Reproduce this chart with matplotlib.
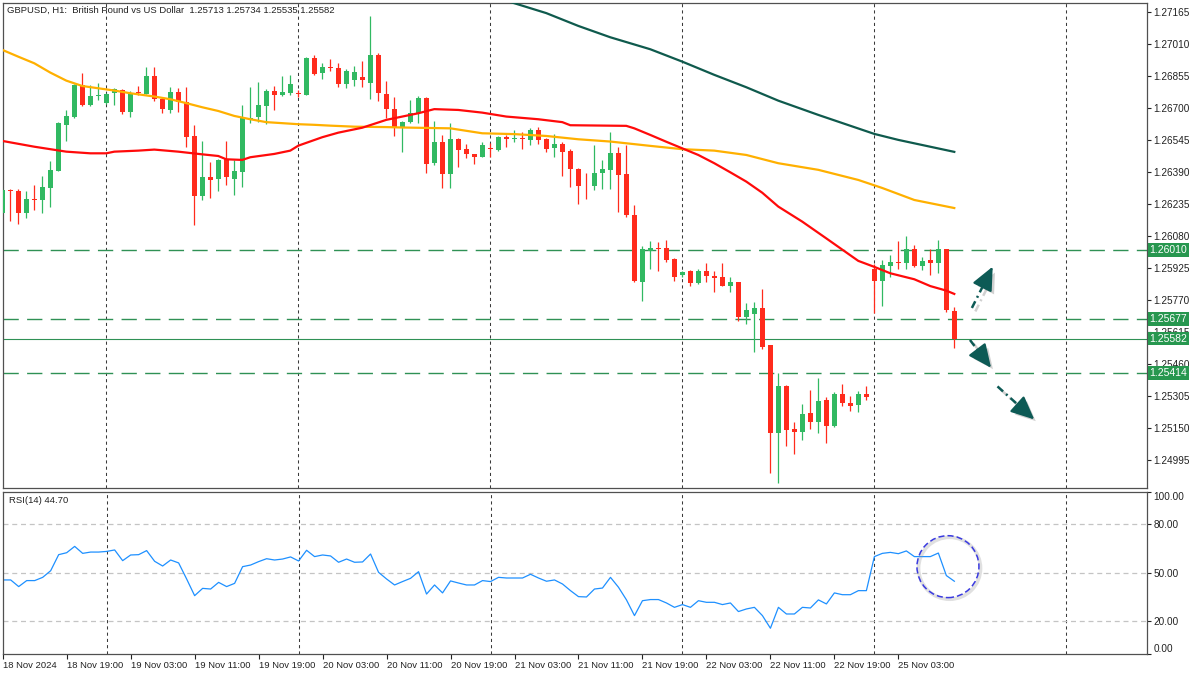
import numpy as np
import matplotlib.pyplot as plt
import matplotlib.patheffects as pe
from matplotlib.patches import Ellipse

plt.rcParams['font.family'] = ['Liberation Sans', 'DejaVu Sans']
FS = 7.2
FS_SMALL = 6.8

# ---- hourly candles, 18 Nov 11:00 .. 25 Nov 10:00 (weekend skipped) ----
opens = [1.26192, 1.26302, 1.26297, 1.26188, 1.26258, 1.26253, 1.26313, 1.26395, 1.26617, 1.26654,
         1.26810, 1.26712, 1.26756, 1.26725, 1.26770, 1.26786, 1.26681, 1.26776, 1.26767, 1.26854,
         1.26742, 1.26689, 1.26778, 1.26729, 1.26563, 1.26274, 1.26365, 1.26355, 1.26452, 1.26355,
         1.26390, 1.26641, 1.26654, 1.26709, 1.26783, 1.26762, 1.26770, 1.26772, 1.26762, 1.26943,
         1.26870, 1.26896, 1.26893, 1.26815, 1.26834, 1.26848, 1.26819, 1.26956, 1.26767, 1.26694,
         1.26605, 1.26633, 1.26673, 1.26749, 1.26431, 1.26536, 1.26378, 1.26549, 1.26500, 1.26476,
         1.26463, 1.26507, 1.26495, 1.26560, 1.26547, 1.26555, 1.26544, 1.26592, 1.26549, 1.26507,
         1.26524, 1.26490, 1.26403, 1.26327, 1.26322, 1.26383, 1.26399, 1.26479, 1.26379, 1.26180,
         1.25857, 1.26008, 1.26019, 1.26019, 1.25966, 1.25890, 1.25909, 1.25853, 1.25909, 1.25885,
         1.25880, 1.25838, 1.25856, 1.25688, 1.25702, 1.25730, 1.25551, 1.25126, 1.25352, 1.25144,
         1.25131, 1.25223, 1.25179, 1.25284, 1.25158, 1.25313, 1.25271, 1.25260, 1.25313, 1.25918,
         1.25861, 1.25935, 1.25954, 1.25947, 1.26014, 1.25935, 1.25963, 1.25950, 1.26014, 1.25713]
highs = [1.26312, 1.26307, 1.26305, 1.26297, 1.26326, 1.26369, 1.26442, 1.26633, 1.26689, 1.26815,
         1.26870, 1.26810, 1.26819, 1.26769, 1.26794, 1.26789, 1.26783, 1.26807, 1.26899, 1.26899,
         1.26752, 1.26802, 1.26794, 1.26799, 1.26617, 1.26540, 1.26436, 1.26452, 1.26539, 1.26447,
         1.26713, 1.26799, 1.26826, 1.26789, 1.26805, 1.26854, 1.26859, 1.26786, 1.26946, 1.26956,
         1.26918, 1.26935, 1.26918, 1.26886, 1.26902, 1.26927, 1.27144, 1.26967, 1.26831, 1.26754,
         1.26636, 1.26738, 1.26757, 1.26754, 1.26637, 1.26568, 1.26628, 1.26555, 1.26525, 1.26478,
         1.26536, 1.26528, 1.26563, 1.26568, 1.26592, 1.26584, 1.26603, 1.26608, 1.26555, 1.26571,
         1.26536, 1.26499, 1.26410, 1.26383, 1.26520, 1.26447, 1.26581, 1.26511, 1.26520, 1.26229,
         1.26030, 1.26055, 1.26050, 1.26060, 1.25971, 1.25907, 1.25912, 1.25919, 1.25949, 1.25909,
         1.25949, 1.25880, 1.25858, 1.25753, 1.25758, 1.25823, 1.25553, 1.25414, 1.25355, 1.25178,
         1.25265, 1.25333, 1.25391, 1.25300, 1.25325, 1.25362, 1.25304, 1.25328, 1.25352, 1.25943,
         1.25963, 1.25987, 1.26056, 1.26079, 1.26035, 1.25979, 1.26014, 1.26060, 1.26016, 1.25734]
lows = [1.26186, 1.26153, 1.26139, 1.26167, 1.26205, 1.26190, 1.26221, 1.26394, 1.26540, 1.26650,
        1.26709, 1.26709, 1.26738, 1.26718, 1.26713, 1.26670, 1.26657, 1.26762, 1.26764, 1.26734,
        1.26673, 1.26676, 1.26681, 1.26511, 1.26132, 1.26253, 1.26264, 1.26297, 1.26326, 1.26277,
        1.26318, 1.26625, 1.26633, 1.26621, 1.26689, 1.26757, 1.26762, 1.26754, 1.26759, 1.26859,
        1.26839, 1.26878, 1.26802, 1.26797, 1.26805, 1.26802, 1.26742, 1.26734, 1.26649, 1.26563,
        1.26487, 1.26628, 1.26628, 1.26385, 1.26423, 1.26313, 1.26313, 1.26414, 1.26455, 1.26428,
        1.26460, 1.26463, 1.26492, 1.26511, 1.26536, 1.26500, 1.26520, 1.26524, 1.26487, 1.26463,
        1.26371, 1.26318, 1.26234, 1.26258, 1.26302, 1.26305, 1.26305, 1.26197, 1.26172, 1.25857,
        1.25765, 1.25919, 1.25911, 1.25954, 1.25862, 1.25879, 1.25838, 1.25846, 1.25857, 1.25809,
        1.25837, 1.25809, 1.25669, 1.25653, 1.25518, 1.25531, 1.24932, 1.24884, 1.25061, 1.25023,
        1.25090, 1.25144, 1.25126, 1.25078, 1.25155, 1.25257, 1.25233, 1.25228, 1.25284, 1.25707,
        1.25740, 1.25882, 1.25919, 1.25919, 1.25930, 1.25914, 1.25890, 1.25901, 1.25712, 1.25535]
closes = [1.26301, 1.26296, 1.26188, 1.26258, 1.26254, 1.26316, 1.26399, 1.26625, 1.26660, 1.26810,
          1.26712, 1.26757, 1.26758, 1.26765, 1.26789, 1.26681, 1.26770, 1.26773, 1.26854, 1.26742,
          1.26693, 1.26778, 1.26729, 1.26557, 1.26274, 1.26366, 1.26350, 1.26447, 1.26363, 1.26394,
          1.26649, 1.26650, 1.26712, 1.26783, 1.26762, 1.26776, 1.26815, 1.26768, 1.26943, 1.26864,
          1.26899, 1.26891, 1.26815, 1.26878, 1.26875, 1.26834, 1.26956, 1.26770, 1.26693, 1.26605,
          1.26633, 1.26673, 1.26746, 1.26426, 1.26536, 1.26378, 1.26549, 1.26495, 1.26476, 1.26463,
          1.26520, 1.26499, 1.26560, 1.26547, 1.26555, 1.26547, 1.26592, 1.26544, 1.26500, 1.26524,
          1.26487, 1.26403, 1.26322, 1.26324, 1.26383, 1.26402, 1.26479, 1.26374, 1.26180, 1.25861,
          1.26014, 1.26019, 1.26014, 1.25963, 1.25882, 1.25905, 1.25853, 1.25909, 1.25885, 1.25877,
          1.25838, 1.25856, 1.25688, 1.25720, 1.25730, 1.25542, 1.25126, 1.25352, 1.25139, 1.25131,
          1.25217, 1.25179, 1.25280, 1.25160, 1.25313, 1.25268, 1.25257, 1.25313, 1.25300, 1.25861,
          1.25938, 1.25954, 1.25947, 1.26014, 1.25935, 1.25958, 1.25950, 1.26014, 1.25720, 1.25582]

# moving averages (bar index, price)
ma_red_bar = [0, 4, 8, 11, 13, 14, 17, 19, 22, 25, 27, 28, 30, 31, 34, 36, 37, 40, 42, 45, 48, 50,
              52, 54, 57, 60, 63, 67, 70, 71, 78, 79, 81, 83, 85, 87, 89, 91, 93, 95, 97, 100,
              103, 107, 109, 111, 114, 116, 118, 119]
ma_red = [1.26539, 1.26511, 1.26487, 1.26479, 1.26479, 1.26487, 1.26492, 1.26497, 1.26487, 1.26474,
          1.26466, 1.26450, 1.26447, 1.26460, 1.26476, 1.26492, 1.26516, 1.26557, 1.26579, 1.26603,
          1.26641, 1.26657, 1.26673, 1.26693, 1.26689, 1.26676, 1.26657, 1.26644, 1.26630, 1.26615,
          1.26612, 1.26600, 1.26568, 1.26535, 1.26503, 1.26471, 1.26431, 1.26387, 1.26342, 1.26288,
          1.26221, 1.26148, 1.26067, 1.25958, 1.25929, 1.25898, 1.25869, 1.25836, 1.25814, 1.25798]
ma_orange_bar = [0, 2, 4, 6, 8, 10, 12, 14, 16, 19, 21, 23, 25, 27, 29, 31, 33, 35, 37, 39, 41, 44,
                 48, 50, 56, 60, 64, 68, 72, 76, 81, 85, 89, 93, 97, 102, 107, 110, 114, 119]
ma_orange = [1.26980, 1.26947, 1.26915, 1.26870, 1.26831, 1.26805, 1.26794, 1.26783, 1.26770, 1.26754,
             1.26741, 1.26722, 1.26702, 1.26684, 1.26660, 1.26644, 1.26630, 1.26625, 1.26620, 1.26617,
             1.26613, 1.26608, 1.26606, 1.26604, 1.26600, 1.26576, 1.26572, 1.26563, 1.26547, 1.26536,
             1.26515, 1.26499, 1.26492, 1.26471, 1.26431, 1.26399, 1.26350, 1.26311, 1.26253, 1.26214]
ma_green_bar = [62, 68, 72, 76, 81, 85, 89, 93, 97, 102, 109, 112, 119]
ma_green = [1.27230, 1.27158, 1.27096, 1.27041, 1.26983, 1.26923, 1.26859, 1.26799, 1.26734, 1.26665,
            1.26573, 1.26544, 1.26486]

rsi = [45.5, 45.5, 41.4, 45.1, 45.1, 47.1, 51.2, 61.1, 62.3, 66.2, 61.9, 62.7, 62.7, 63.1, 64.0,
       57.4, 60.9, 61.1, 63.6, 57.0, 54.1, 57.8, 56.0, 46.1, 35.8, 40.3, 39.9, 44.0, 41.4, 43.4,
       53.7, 54.7, 56.8, 58.6, 57.8, 58.4, 59.7, 57.2, 63.8, 59.9, 60.9, 60.3, 56.4, 58.4, 56.4,
       56.6, 61.5, 50.2, 46.1, 42.4, 44.5, 46.5, 50.6, 36.8, 42.4, 37.5, 44.9, 43.6, 42.4, 42.4,
       45.1, 44.5, 47.1, 46.7, 46.7, 46.7, 49.0, 46.7, 44.7, 45.5, 43.0, 38.9, 35.2, 35.0, 39.9,
       40.5, 47.1, 41.0, 33.2, 23.5, 32.7, 33.4, 33.4, 31.3, 28.6, 30.3, 28.6, 32.7, 31.7, 31.7,
       30.3, 31.3, 26.0, 27.6, 28.6, 23.5, 15.7, 28.6, 24.5, 24.5, 28.6, 28.2, 33.2, 30.7, 37.5,
       36.4, 36.4, 38.9, 38.9, 59.9, 61.9, 62.5, 61.7, 63.4, 59.9, 59.9, 59.9, 62.1, 48.2, 44.7]

levels = [1.26010, 1.25677, 1.25414]
last_price = 1.25582

price_ticks = [1.27165, 1.27010, 1.26855, 1.26700, 1.26545, 1.26390, 1.26235, 1.26080,
               1.25925, 1.25770, 1.25615, 1.25460, 1.25305, 1.25150, 1.24995]
rsi_ticks = [0, 20, 50, 80, 100]
date_tick_bars = [0, 8, 16, 24, 32, 40, 48, 56, 64, 72, 80, 88, 96, 104, 112]
date_labels = ['18 Nov 2024', '18 Nov 19:00', '19 Nov 03:00', '19 Nov 11:00', '19 Nov 19:00',
               '20 Nov 03:00', '20 Nov 11:00', '20 Nov 19:00', '21 Nov 03:00', '21 Nov 11:00',
               '21 Nov 19:00', '22 Nov 03:00', '22 Nov 11:00', '22 Nov 19:00', '25 Nov 03:00']
day_sep_bars = [13, 37, 61, 85, 109, 133]

# drawn annotations: arrows (bar, price) -> (bar, price)
arrows = [((121.2, 1.25730), (123.8, 1.25930)),
          ((120.96, 1.25575), (123.6, 1.25440)),
          ((124.4, 1.25350), (129.0, 1.25190))]

BULL, BEAR = '#31b962', '#ff2b1c'
GRID = '#3a3a3a'
LEVEL = '#2f9155'
ARROW = '#0d5a55'

W, H = 1200, 675
fig = plt.figure(figsize=(W / 100, H / 100), dpi=100)
ax = fig.add_axes([2.7 / W, 1 - 488 / H, (1147 - 2.7) / W, (488 - 3) / H])
ax2 = fig.add_axes([2.7 / W, 1 - 653.7 / H, (1147 - 2.7) / W, (653.7 - 491.6) / H])

o = np.array(opens); c = np.array(closes)
hi = np.array(highs); lo = np.array(lows)
x = np.arange(len(o))
up = c >= o
cols = np.where(up, BULL, BEAR)

ax.vlines(x, lo, hi, colors=cols, lw=0.9, zorder=3)
body = np.maximum(np.abs(c - o), 0.00003)
ax.bar(x, body, bottom=np.minimum(o, c), width=0.62, color=cols, lw=0, zorder=4)

ax.plot(ma_green_bar, ma_green, color='#0f5a4d', lw=1.6, zorder=5)
ax.plot(ma_orange_bar, ma_orange, color='#ffb000', lw=1.6, zorder=5)
ax.plot(ma_red_bar, ma_red, color='#ff0a0a', lw=1.6, zorder=6)

for lv in levels:
    ax.axhline(lv, color=LEVEL, lw=1.0, linestyle=(0, (11, 6)), zorder=2)
ax.axhline(last_price, color=LEVEL, lw=0.8, zorder=2)

for a in (ax, ax2):
    for b in day_sep_bars:
        a.axvline(b, color=GRID, lw=0.75, linestyle=(0, (3, 3)), zorder=1)
    for s in a.spines.values():
        s.set_color('#505050')
        s.set_linewidth(0.9)
    a.set_xlim(0.05, 143.09)

ax.set_ylim(1.24858, 1.27207)
ax.yaxis.tick_right()
ax.set_yticks(price_ticks)
ax.set_yticklabels([f'{t:.5f}' for t in price_ticks])
ax.tick_params(axis='y', length=3, width=0.8, pad=1.5, labelsize=FS, colors='#222222')
ax.tick_params(axis='x', bottom=False, labelbottom=False)

for lv in levels + [last_price]:
    ax.text(1.0 + 2.5 / 1144, lv, f'{lv:.5f}', transform=ax.get_yaxis_transform(),
            ha='left', va='center', fontsize=FS + 0.3, color='white', clip_on=False, zorder=20,
            bbox=dict(boxstyle='square,pad=0.18', fc='#27974f', ec='none'))

fig.text(7 / W, 1 - 10 / H,
         'GBPUSD, H1:  British Pound vs US Dollar  1.25713 1.25734 1.25535 1.25582',
         fontsize=FS_SMALL, color='#222222', va='center', ha='left')

# dash-dot arrows with a soft drop shadow
line_fx = [pe.SimpleLineShadow(offset=(2.5, -2.5), shadow_color='#666666', alpha=0.3), pe.Normal()]
head_fx = [pe.SimplePatchShadow(offset=(2.5, -2.5), shadow_rgbFace='#666666', alpha=0.3), pe.Normal()]
for (x0, y0), (x1, y1) in arrows:
    xm, ym = x1 - 0.3 * (x1 - x0), y1 - 0.3 * (y1 - y0)
    ax.plot([x0, xm], [y0, ym], color=ARROW, lw=1.8, linestyle=(0, (3, 1.6, 0.8, 1.6)),
            solid_capstyle='butt', path_effects=line_fx, zorder=7)
    ann = ax.annotate('', xy=(x1, y1), xytext=(xm, ym),
                      arrowprops=dict(arrowstyle='-|>,head_length=1.1,head_width=0.5',
                                      mutation_scale=13, color=ARROW, lw=1.6,
                                      shrinkA=0, shrinkB=0), zorder=8)
    ann.arrow_patch.set_path_effects(head_fx)

# RSI panel
ax2.plot(x, rsi, color='#1e90ff', lw=0.9)
for lv in (80, 50, 20):
    ax2.axhline(lv, color='#c4c4c4', lw=0.9, linestyle=(0, (4, 3)), zorder=1)
ax2.set_ylim(0, 100)
ax2.yaxis.tick_right()
ax2.set_yticks(rsi_ticks)
ax2.set_yticklabels([f'{t:.2f}' for t in rsi_ticks])
ax2.tick_params(axis='y', length=3, width=0.8, pad=1.5, labelsize=FS, colors='#222222')
ylabs = ax2.get_yticklabels()
ylabs[0].set_va('bottom')
ylabs[-1].set_va('top')
ax2.set_xticks(date_tick_bars)
ax2.set_xticklabels(date_labels)
ax2.tick_params(axis='x', length=3.5, width=0.8, pad=2, labelsize=FS_SMALL, colors='#222222')
for lab in ax2.get_xticklabels():
    lab.set_ha('left')

ax2.text(6 / 1144, 1 - 9 / 162, 'RSI(14) 44.70', transform=ax2.transAxes,
         fontsize=FS_SMALL, color='#222222', va='center', ha='left')

# highlight circle round the latest RSI drop, with a soft shadow ring
circ_xy, circ_w, circ_h = (118.2, 53.7), 7.75, 38.2
ax2.add_patch(Ellipse((circ_xy[0] + 0.2, circ_xy[1] - 1.0), width=circ_w, height=circ_h,
                      fill=False, ec='#999999', lw=2.6, alpha=0.3, zorder=5))
ax2.add_patch(Ellipse(circ_xy, width=circ_w, height=circ_h, fill=False, ec='#3a3ae0',
                      lw=1.1, linestyle=(0, (4, 2)), zorder=6))

fig.savefig('out.png', dpi=100)
